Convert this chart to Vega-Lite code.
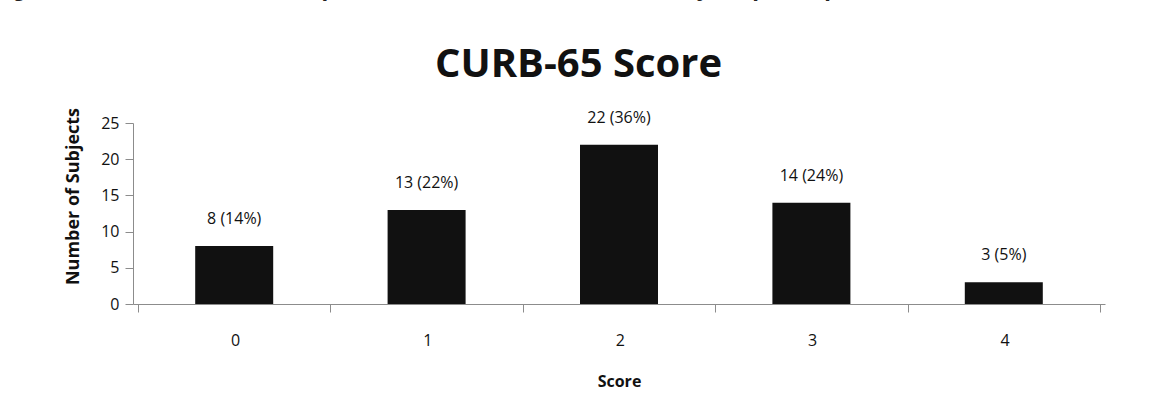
{
  "$schema": "https://vega.github.io/schema/vega-lite/v6.json",
  "width": 972,
  "height": 181,
  "autosize": {"type": "none"},
  "padding": {"left": 133, "top": 123, "right": 46, "bottom": 115},
  "background": "white",
  "config": {
    "view": {"stroke": null},
    "font": "Open Sans",
    "axis": {"grid": false, "domainColor": "#8c8c8c", "tickColor": "#8c8c8c", "labelColor": "#111", "titleColor": "#111", "labelFont": "Open Sans", "titleFont": "Open Sans"}
  },
  "title": {
    "text": "Figure 1. CURB-65 scores of patients admitted with community-acquired pneumonia",
    "font": "Liberation Sans",
    "fontSize": 24,
    "fontWeight": "bold",
    "color": "#222",
    "anchor": "start",
    "frame": "bounds",
    "baseline": "alphabetic",
    "offset": 0,
    "dx": -74,
    "dy": -24
  },
  "data": {
    "values": [
      {"score": 0, "count": 8, "label": "8 (14%)"},
      {"score": 1, "count": 13, "label": "13 (22%)"},
      {"score": 2, "count": 22, "label": "22 (36%)"},
      {"score": 3, "count": 14, "label": "14 (24%)"},
      {"score": 4, "count": 3, "label": "3 (5%)"}
    ]
  },
  "layer": [
    {
      "mark": {"type": "bar", "width": 78, "color": "#111111"},
      "encoding": {
        "x": {
          "field": "score",
          "type": "quantitative",
          "scale": {"domain": [-0.5, 4.5], "nice": false, "zero": false},
          "axis": {
            "title": "Score",
            "titleFontSize": 16,
            "titleFontWeight": "bold",
            "titlePadding": 25,
            "values": [-0.5, 0.5, 1.5, 2.5, 3.5, 4.5],
            "labelExpr": "datum.value < 4 ? format(datum.value + 0.5, 'd') : ''",
            "labelOffset": 97,
            "labelFontSize": 16,
            "labelPadding": 20,
            "labelOverlap": false,
            "tickSize": 8
          }
        },
        "y": {
          "field": "count",
          "type": "quantitative",
          "scale": {"domain": [0, 25], "nice": false},
          "axis": {
            "title": "Number of Subjects",
            "titleFontSize": 18,
            "titleFontWeight": "bold",
            "titlePadding": 18,
            "titleY": 73,
            "values": [0, 5, 10, 15, 20, 25],
            "labelOverlap": false,
            "labelFlush": false,
            "labelFontSize": 16,
            "labelPadding": 6,
            "tickSize": 8
          }
        }
      }
    },
    {
      "mark": {"type": "text", "dy": -22, "fontSize": 16, "color": "#111", "font": "Open Sans", "baseline": "alphabetic"},
      "encoding": {
        "x": {
          "field": "score",
          "type": "quantitative",
          "scale": {"domain": [-0.5, 4.5], "nice": false, "zero": false},
          "axis": {
            "orient": "top",
            "domain": false,
            "ticks": false,
            "labels": false,
            "title": "CURB-65 Score",
            "titleFont": "Open Sans",
            "titleFontSize": 40,
            "titleFontWeight": "bold",
            "titleColor": "#111",
            "titleAlign": "center",
            "titleBaseline": "alphabetic",
            "titleX": 445,
            "titleY": -47
          }
        },
        "y": {
          "field": "count",
          "type": "quantitative",
          "scale": {"domain": [0, 25], "nice": false},
          "axis": {
            "title": "Number of Subjects",
            "titleFontSize": 18,
            "titleFontWeight": "bold",
            "titlePadding": 18,
            "titleY": 73,
            "values": [0, 5, 10, 15, 20, 25],
            "labelOverlap": false,
            "labelFlush": false,
            "labelFontSize": 16,
            "labelPadding": 6,
            "tickSize": 8
          }
        },
        "text": {"field": "label"}
      }
    }
  ],
  "resolve": {"axis": {"x": "independent"}}
}
